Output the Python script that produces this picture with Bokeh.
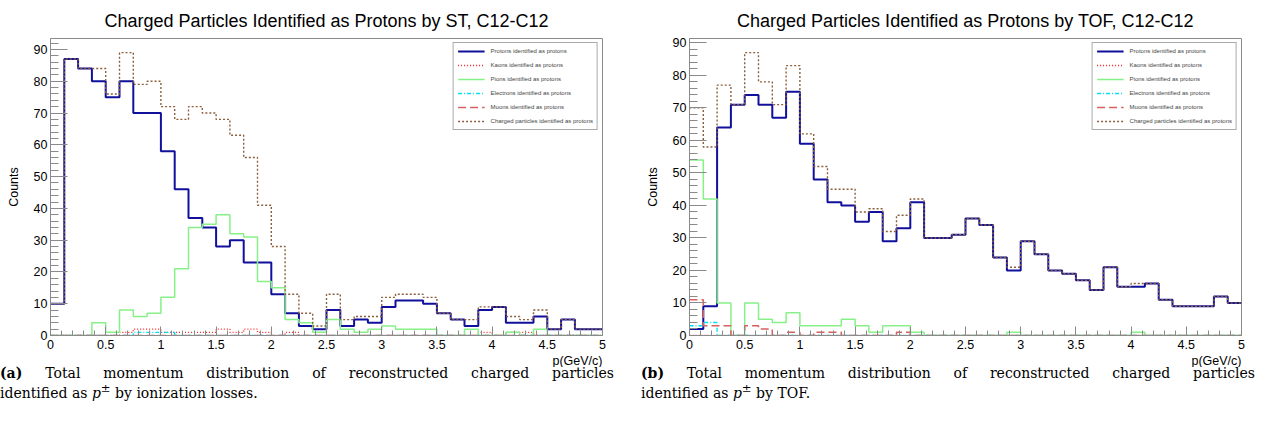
from bokeh.plotting import figure
from bokeh.models import Range1d, SingleIntervalTicker, Div, Title
from bokeh.layouts import row, column
from bokeh.embed import file_html
from bokeh.resources import INLINE

# ---- data (40 bins of 0.125 GeV/c from 0 to 5) ----
P_MIN, P_MAX, N_BINS = 0.0, 5.0, 40

series_labels = [
    "Protons identified as protons",
    "Kaons identified as protons",
    "Pions identified as protons",
    "Electrons identified as protons",
    "Muons identified as protons",
    "Charged particles identified as protons",
]

# (a) ST
st_protons = [10, 87, 84, 80, 75, 80, 70, 70, 58, 46, 37, 34, 28, 30, 23, 23, 13, 7, 3, 2,
              8, 3, 5, 4, 9, 11, 11, 10, 7, 5, 3, 8, 9, 4, 4, 6, 2, 5, 2, 2]
st_kaons = [0, 0, 0, 0, 0, 1, 2, 2, 1, 1, 1, 1, 2, 1, 2, 1, 0, 1, 0, 0,
            0, 0, 0, 0, 0, 0, 0, 0, 0, 0, 0, 1, 0, 1, 1, 0, 0, 0, 0, 0]
st_pions = [0, 0, 0, 4, 1, 8, 6, 7, 12, 21, 34, 35, 38, 32, 31, 17, 15, 5, 4, 1,
            5, 2, 1, 2, 3, 2, 2, 2, 0, 0, 2, 0, 0, 1, 0, 2, 0, 0, 0, 0]
st_electrons = [0, 0, 0, 0, 0, 0, 1, 1, 1, 0, 0, 0, 0, 0, 0, 0, 0, 0, 0, 0,
                0, 0, 0, 0, 0, 0, 0, 0, 0, 0, 0, 0, 0, 0, 0, 0, 0, 0, 0, 0]
st_muons = [0] * 40
st_charged = [10, 87, 84, 84, 76, 89, 79, 80, 72, 68, 72, 70, 68, 63, 56, 41, 28, 13, 7, 3,
              13, 5, 6, 6, 12, 13, 13, 12, 7, 5, 5, 9, 9, 6, 5, 8, 2, 5, 2, 2]

# (b) TOF
tof_protons = [2, 9, 64, 71, 74, 71, 67, 75, 59, 48, 41, 40, 35, 38, 29, 33, 41, 30, 30, 31,
               36, 34, 24, 20, 29, 25, 20, 19, 17, 14, 21, 15, 15, 16, 11, 9, 9, 9, 12, 10]
tof_kaons = [0] * 40
tof_pions = [54, 42, 10, 0, 10, 5, 4, 7, 3, 3, 3, 5, 3, 1, 3, 3, 1, 0, 0, 0,
             0, 0, 0, 1, 0, 0, 0, 0, 0, 0, 0, 0, 1, 0, 0, 0, 0, 0, 0, 0]
tof_electrons = [3, 4, 0, 0, 0, 0, 0, 0, 0, 0, 0, 0, 0, 0, 0, 0, 0, 0, 0, 0,
                 0, 0, 0, 0, 0, 0, 0, 0, 0, 0, 0, 0, 0, 0, 0, 0, 0, 0, 0, 0]
tof_muons = [11, 3, 3, 0, 3, 2, 0, 1, 0, 1, 1, 0, 0, 0, 0, 1, 0, 0, 0, 0,
             0, 0, 0, 0, 0, 0, 0, 0, 0, 0, 0, 0, 0, 0, 0, 0, 0, 0, 0, 0]
tof_charged = [70, 58, 77, 71, 87, 78, 71, 83, 62, 52, 45, 45, 38, 39, 32, 37, 42, 30, 30, 31,
               36, 34, 24, 21, 29, 25, 20, 19, 17, 14, 21, 15, 16, 16, 11, 9, 9, 9, 12, 10]

x_tick_values = [0, 0.5, 1, 1.5, 2, 2.5, 3, 3.5, 4, 4.5, 5]
x_tick_labels = ["0", "0.5", "1", "1.5", "2", "2.5", "3", "3.5", "4", "4.5", "5"]

title_a = "Charged Particles Identified as Protons by ST, C12-C12"
title_b = "Charged Particles Identified as Protons by TOF, C12-C12"
x_title = "p(GeV/c)"
y_title = "Counts"

caption_a = ("<b>(a)</b> Total momentum distribution of reconstructed charged particles",
             "identified as <i>p</i><sup style=\"line-height:0\">&plusmn;</sup> by ionization losses.")
caption_b = ("<b>(b)</b> Total momentum distribution of reconstructed charged particles",
             "identified as <i>p</i><sup style=\"line-height:0\">&plusmn;</sup> by TOF.")

# ---- styles ----
STYLES = [
    dict(line_color="#10109c", line_width=2.0, line_dash="solid"),
    dict(line_color="#ff2020", line_width=1.3, line_dash="1 2"),
    dict(line_color="#88f088", line_width=1.5, line_dash="solid"),
    dict(line_color="#00e0f0", line_width=1.3, line_dash="4 2 1 2"),
    dict(line_color="#d86060", line_width=1.5, line_dash="8 4"),
    dict(line_color="#8b5e3c", line_width=1.4, line_dash="2 2"),
]
SANS = "Liberation Sans"
GRAY = "#8a8a8a"


def make_hist(title, data, ymax, left, right):
    p = figure(frame_width=552, frame_height=297,
               min_border_left=left, min_border_right=right,
               min_border_top=38, min_border_bottom=30,
               x_range=Range1d(P_MIN, P_MAX), y_range=Range1d(0, ymax),
               output_backend="svg", toolbar_location=None, title=title)
    p.title.align = "center"
    p.title.text_font = SANS
    p.title.text_font_style = "normal"
    p.title.text_font_size = "18px"
    p.title.text_color = "black"
    p.title.standoff = 16
    p.xgrid.visible = False
    p.ygrid.visible = False
    p.outline_line_color = GRAY
    p.outline_line_width = 1
    p.background_fill_color = "white"
    p.border_fill_color = "white"

    width = (P_MAX - P_MIN) / N_BINS
    edges = [P_MIN + i * width for i in range(N_BINS + 1)]
    for vals, lab, st in zip(data, series_labels, STYLES):
        p.step(x=edges, y=list(vals) + [vals[-1]], mode="after",
               legend_label=lab, **st)

    xa = p.xaxis[0]
    xa.ticker = SingleIntervalTicker(interval=0.5, num_minor_ticks=5)
    xa.major_label_overrides = {v: s for v, s in zip(x_tick_values, x_tick_labels)}
    ya = p.yaxis[0]
    ya.ticker = SingleIntervalTicker(interval=10, num_minor_ticks=5)
    for ax in (xa, ya):
        ax.axis_line_color = GRAY
        ax.major_tick_line_color = GRAY
        ax.minor_tick_line_color = GRAY
        ax.major_tick_out = 0
        ax.minor_tick_out = 0
        ax.major_label_text_font = SANS
        ax.major_label_text_font_size = "12.5px"
        ax.major_label_text_color = "black"
        ax.axis_label_text_font = SANS
        ax.axis_label_text_font_style = "normal"
        ax.axis_label_text_font_size = "12.5px"
        ax.axis_label_text_color = "black"
    xa.major_tick_in = 9
    xa.minor_tick_in = 5
    xa.major_label_standoff = 4
    ya.major_tick_in = 17
    ya.minor_tick_in = 8
    ya.major_label_standoff = 3
    ya.axis_label = y_title
    ya.axis_label_standoff = 10

    p.add_layout(Title(text=x_title, align="right", text_font=SANS,
                       text_font_style="normal", text_font_size="12.5px",
                       text_color="black", standoff=0, offset=0), "below")

    lg = p.legend[0]
    lg.location = "top_right"
    lg.margin = 4
    lg.padding = 4
    lg.spacing = 6
    lg.glyph_width = 27
    lg.glyph_height = 8
    lg.label_height = 8
    lg.label_standoff = 6
    lg.label_text_font = SANS
    lg.label_text_font_size = "6px"
    lg.border_line_color = "#555555"
    lg.border_line_width = 1
    lg.background_fill_alpha = 1.0
    return p


pa = make_hist(title_a, [st_protons, st_kaons, st_pions, st_electrons, st_muons, st_charged],
               1.05 * max(st_charged), 50, 32)
pb = make_hist(title_b, [tof_protons, tof_kaons, tof_pions, tof_electrons, tof_muons, tof_charged],
               1.05 * max(tof_charged), 55, 27)

CAP_STYLE = ("font-family:'DejaVu Serif',serif;font-size:14px;line-height:19.5px;"
             "color:black;width:614px;")


def caption(lines, shift_x, shift_y):
    return Div(text=(f"<div style=\"{CAP_STYLE}position:relative;left:{shift_x}px;top:{shift_y}px;\">"
                     f"<div style=\"text-align:justify;text-align-last:justify;\">{lines[0]}</div>"
                     f"<div>{lines[1]}</div></div>"),
               width=634, height=50, margin=0)


layout = row(column(pa, caption(caption_a, 0, -3)), column(pb, caption(caption_b, 7, -3)))

with open("out.html", "w") as f:
    f.write(file_html(layout, INLINE))
